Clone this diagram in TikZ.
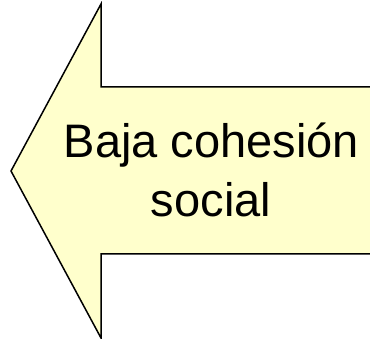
\documentclass[tikz,border=0pt]{standalone}
\usepackage{fontspec}
\setmainfont{Liberation Sans}
\definecolor{arrowfill}{HTML}{FFFFCC}
\begin{document}
\begin{tikzpicture}[x=1pt,y=-1pt,
  arrowshape/.style={fill=arrowfill,draw=black,line width=1.5pt,line join=miter},
  lbl/.style={anchor=base,inner sep=0pt,font=\fontsize{47}{59}\selectfont}]
\useasboundingbox (0,0) rectangle (370,339);
\draw[arrowshape] (380,87) -- (101,87) -- (101,4) -- (11,171) -- (101,338) -- (101,254) -- (380,254) -- cycle;
\node[lbl] (t1) at (211.5,158) {Baja cohesión};
\node[lbl] (t2) at (211,217) {social};
\end{tikzpicture}
\end{document}
